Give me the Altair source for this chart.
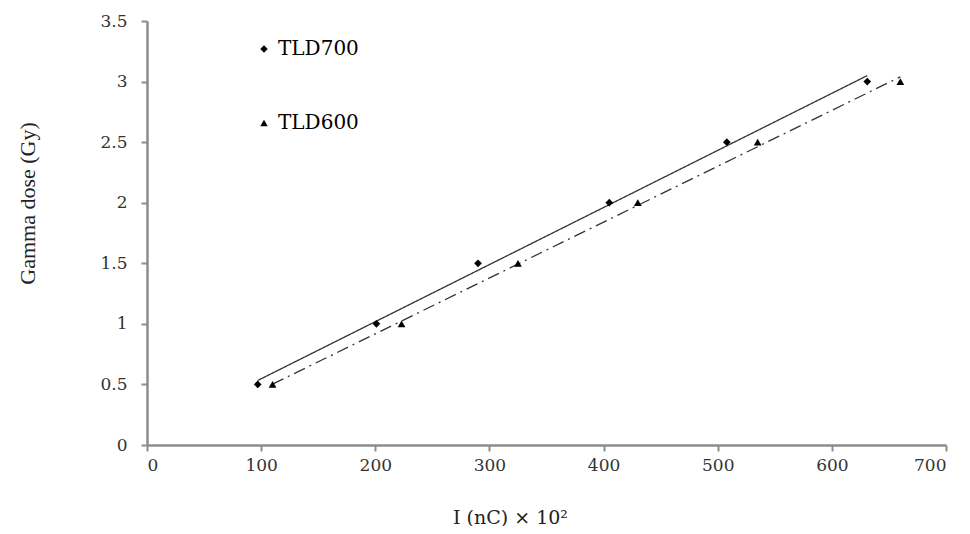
import altair as alt
import pandas as pd

series_names = ["TLD700", "TLD600"]
tld700_x = [97, 201, 290, 405, 508, 631]
tld700_y = [0.5, 1.0, 1.5, 2.0, 2.5, 3.0]
tld600_x = [110, 223, 325, 430, 535, 660]
tld600_y = [0.5, 1.0, 1.5, 2.0, 2.5, 3.0]

rows = []
for x, y in zip(tld700_x, tld700_y):
    rows.append({"charge": x, "dose": y, "series": "TLD700"})
for x, y in zip(tld600_x, tld600_y):
    rows.append({"charge": x, "dose": y, "series": "TLD600"})
df = pd.DataFrame(rows)

SERIF = "Liberation Serif"
WIDE = "DejaVu Serif"

x_enc = alt.X("charge:Q", scale=alt.Scale(domain=[0, 700], nice=False),
              axis=alt.Axis(values=[0, 100, 200, 300, 400, 500, 600, 700],
                            labelPadding=6,
                            title="I (nC) × 10²", titleFont=WIDE, titleFontSize=19,
                            titleX=363, titleY=63, titleAlign="center", titleBaseline="top"))
y_enc = alt.Y("dose:Q", scale=alt.Scale(domain=[0, 3.5], nice=False),
              axis=alt.Axis(values=[0, 0.5, 1, 1.5, 2, 2.5, 3, 3.5], format="~g",
                            labelPadding=14,
                            title="Gamma dose (Gy)", titleFont=SERIF, titleFontSize=22,
                            titleX=-120, titleY=182, titleAlign="center",
                            titleBaseline="middle", titleAngle=270))

base = alt.Chart(df)

lines = []
for name, dash in [("TLD700", [1, 0]), ("TLD600", [12, 5, 2, 5])]:
    ln = (
        base.transform_filter(alt.datum.series == name)
        .transform_regression("charge", "dose")
        .mark_line(color="#333333", strokeWidth=1.3, strokeDash=dash)
        .encode(x=x_enc, y=y_enc)
    )
    lines.append(ln)

points = base.mark_point(filled=True, opacity=1, color="black", size=60).encode(
    x=x_enc,
    y=y_enc,
    shape=alt.Shape("series:N",
                    scale=alt.Scale(domain=series_names, range=["diamond", "triangle-up"]),
                    legend=alt.Legend(title=None, orient="none", legendX=107, legendY=18,
                                      labelFont=WIDE, labelFontSize=20, labelColor="black",
                                      symbolFillColor="black", symbolStrokeColor="black",
                                      symbolSize=55, rowPadding=54, labelOffset=4)),
)

chart = (
    alt.layer(*lines, points)
    .properties(width=799, height=424,
                autosize=alt.AutoSizeParams(type="none"),
                padding={"left": 139, "top": 13, "right": 15, "bottom": 81})
    .configure_view(stroke=None)
    .configure_axis(grid=False, domainColor="#8c8c8c", domainWidth=2.5,
                    tickColor="#8c8c8c", tickWidth=2, tickSize=6,
                    labelFont=WIDE, labelFontSize=17, labelColor="#333333",
                    titleColor="#222222", titleFontWeight="normal")
)

chart.save("out.html", embed_options={"renderer": "svg", "actions": False})
